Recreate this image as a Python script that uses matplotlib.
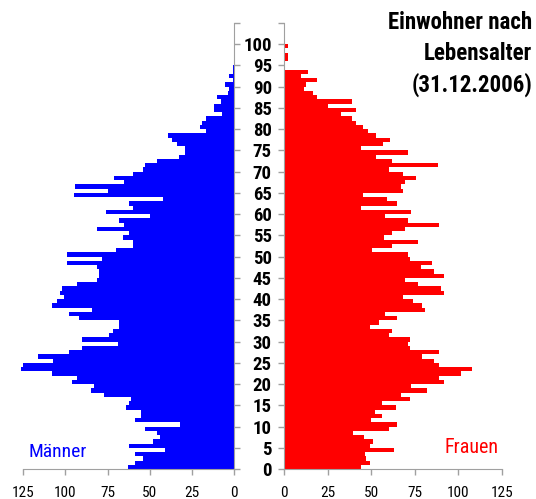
import numpy as np
import matplotlib
matplotlib.use('Agg')
import matplotlib.pyplot as plt
from matplotlib import font_manager

ages = np.arange(0, 100)

maenner = [63, 59, 54, 59, 41, 62, 48, 44, 46, 53,
           32, 59, 55, 55, 64, 62, 61, 77, 85, 83,
           96, 93, 108, 126, 125, 107, 116, 98, 90, 69,
           90, 74, 72, 68, 68, 92, 98, 84, 108, 105,
           101, 103, 102, 93, 81, 80, 80, 81, 99, 78,
           99, 70, 60, 60, 66, 62, 81, 65, 68, 50,
           76, 60, 62, 42, 95, 75, 94, 65, 71, 60,
           54, 53, 46, 33, 29, 29, 34, 37, 39, 17,
           20, 19, 17, 7, 12, 12, 8, 10, 4, 3,
           5.5, 0.5, 3, 0.5, 1, 0, 0, 0, 0, 0]

frauen = [44, 49, 47, 46.5, 63, 49, 51, 46, 39.5, 60,
          65, 50, 56, 52, 64, 56, 72, 67, 82, 73,
          92, 89, 101.5, 108, 89, 86, 79, 89, 72, 71,
          72, 60, 62, 49, 54.5, 65, 58, 81, 79, 74,
          68, 92, 90, 77, 69.5, 92, 86, 78.5, 85, 72,
          71, 50.5, 62, 77, 57.5, 62, 69.5, 89, 71, 58,
          73, 44, 65, 59, 45, 68, 67, 69.5, 76, 68,
          60, 88.5, 62, 53, 71, 44, 57, 61, 53, 48,
          45.5, 41, 39, 32.6, 41, 25, 39, 19, 16.7, 11.3,
          12.5, 19, 9.4, 13.4, 0.5, 0.5, 2, 2, 0, 2]

x_ticks = [0, 25, 50, 75, 100, 125]
y_ticks = list(range(0, 106, 5))
y_labels = [str(t) if t <= 100 else '' for t in y_ticks]

# schmale Schrift wie im Original, sonst DejaVu
installed = {f.name for f in font_manager.fontManager.ttflist}
narrow = 'DejaVu Sans'
for name in ['Liberation Sans Narrow', 'Arial Narrow', 'Roboto Condensed',
             'Archivo Narrow', 'Barlow Semi Condensed']:
    if name in installed:
        narrow = name
        break
plt.rcParams['font.family'] = [narrow, 'DejaVu Sans']

grau = '#a0a0a0'

fig = plt.figure(figsize=(5.36, 4.99), dpi=100)
ax_m = fig.add_axes([23 / 536, 30 / 499, 211.3 / 536, 446 / 499])
ax_f = fig.add_axes([284.3 / 536, 30 / 499, 217.4 / 536, 446 / 499])

ax_m.barh(ages, maenner, height=1, align='edge', color='#0000ff', linewidth=0, clip_on=False)
ax_f.barh(ages, frauen, height=1, align='edge', color='#ff0000', linewidth=0, clip_on=False)

ax_m.set_xlim(125, 0)
ax_f.set_xlim(0, 125)
for ax in (ax_m, ax_f):
    ax.set_ylim(0, 105)
    ax.set_xticks(x_ticks)
    ax.set_xticklabels([str(t) for t in x_ticks], fontsize=11)
    ax.set_yticks(y_ticks)
    ax.spines['top'].set_visible(False)
    ax.tick_params(axis='both', colors=grau, length=4, width=1, labelcolor='black')
    ax.tick_params(axis='x', pad=8)
    for s in ax.spines.values():
        s.set_color(grau)
    ax.set_facecolor('none')

ax_m.spines['left'].set_visible(False)
ax_m.yaxis.tick_right()
ax_m.set_yticklabels([])

ax_f.spines['right'].set_visible(False)
ax_f.set_yticklabels(y_labels, fontsize=13.5, fontweight='bold')
ax_f.tick_params(axis='y', pad=5)

fig.text(0.993, 0.978, 'Einwohner nach\nLebensalter\n(31.12.2006)', ha='right', va='top',
         fontsize=16.5, fontweight='bold', linespacing=1.42)
fig.text(28 / 536, 1 - 457 / 499, 'Männer', color='#0000ff', fontsize=14, va='baseline')
fig.text(445 / 536, 1 - 453 / 499, 'Frauen', color='#ff0000', fontsize=14.5, va='baseline')

fig.savefig('out.png', dpi=100)
